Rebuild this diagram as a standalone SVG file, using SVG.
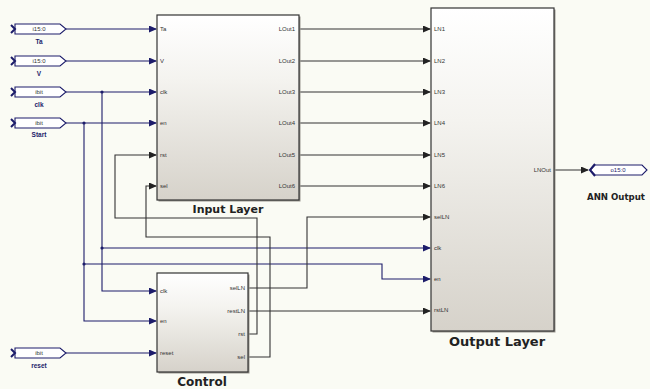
<svg xmlns="http://www.w3.org/2000/svg" width="650" height="389" viewBox="0 0 650 389">
<defs>
<linearGradient id="blk" x1="0" y1="0" x2="0" y2="1">
<stop offset="0" stop-color="#ffffff"/>
<stop offset="0.35" stop-color="#f4f3ef"/>
<stop offset="1" stop-color="#d6d2ca"/>
</linearGradient>
<marker id="arN" markerWidth="8" markerHeight="7" refX="7" refY="3.5" orient="auto" markerUnits="userSpaceOnUse">
<path d="M0,0 L8,3.5 L0,7 Z" fill="#1c1c6a"/>
</marker>
<marker id="arK" markerWidth="8" markerHeight="7" refX="7" refY="3.5" orient="auto" markerUnits="userSpaceOnUse">
<path d="M0,0 L8,3.5 L0,7 Z" fill="#222"/>
</marker>
</defs>
<style>
.bg{fill:#fafbf4}
.blk{fill:url(#blk);stroke:#333;stroke-width:1.2}
.shd{fill:#9a978f}
.port{fill:#fff;stroke:#1c1c6a;stroke-width:1.1}
.notch{fill:none;stroke:#1c1c6a;stroke-width:2}
.pt{font-family:"Liberation Sans",Arial,sans-serif;font-size:6px;fill:#333}
.ptv{font-family:"Liberation Sans",Arial,sans-serif;font-size:6px;fill:#1c1c6a}
.pl{font-family:"Liberation Sans",Arial,sans-serif;font-size:6.5px;fill:#1c1c6a;font-weight:bold}
.ttl{font-family:"DejaVu Sans",Verdana,sans-serif;font-weight:bold;fill:#222}
.wn{fill:none;stroke:#1c1c6a;stroke-width:1.1}
.wk{fill:none;stroke:#333;stroke-width:1.1}
.dot{fill:#1c1c6a}
</style>
<rect class="bg" x="0" y="0" width="650" height="389"/>

<g id="connectors">
<path class="wn" d="M66,29 H156" marker-end="url(#arN)"/>
<path class="wn" d="M66,61 H156" marker-end="url(#arN)"/>
<path class="wn" d="M66,92 H156" marker-end="url(#arN)"/>
<path class="wn" d="M66,123 H156" marker-end="url(#arN)"/>
<path class="wn" d="M102,92 V291 H156" marker-end="url(#arN)"/>
<path class="wn" d="M84,123 V321 H156" marker-end="url(#arN)"/>
<path class="wn" d="M102,248 H430" marker-end="url(#arN)"/>
<path class="wn" d="M84,264 H382 V279 H430" marker-end="url(#arN)"/>
<path class="wn" d="M66,353 H156" marker-end="url(#arN)"/>
<path class="wk" d="M248,334 H257 V218 H115 V155 H156" marker-end="url(#arK)"/>
<path class="wk" d="M248,357 H270 V237 H146 V186 H156" marker-end="url(#arK)"/>
<path class="wk" d="M248,288 H307 V217 H430" marker-end="url(#arK)"/>
<path class="wk" d="M248,311 H430" marker-end="url(#arK)"/>
<path class="wk" d="M299,29 H430" marker-end="url(#arK)"/>
<path class="wk" d="M299,61 H430" marker-end="url(#arK)"/>
<path class="wk" d="M299,92 H430" marker-end="url(#arK)"/>
<path class="wk" d="M299,123 H430" marker-end="url(#arK)"/>
<path class="wk" d="M299,155 H430" marker-end="url(#arK)"/>
<path class="wk" d="M299,186 H430" marker-end="url(#arK)"/>
<path class="wk" d="M555,170 H588" marker-end="url(#arK)"/>
<circle class="dot" cx="102" cy="92" r="1.6"/>
<circle class="dot" cx="84" cy="123" r="1.6"/>
<circle class="dot" cx="102" cy="248" r="1.6"/>
<circle class="dot" cx="84" cy="264" r="1.6"/>
</g>

<g id="in_Ta">
<path class="port" d="M15,24 H60 L66,29 L60,34 H15 Z"/>
<path class="notch" d="M11,25 L15,29 L11,33"/>
<text class="pt" x="39" y="31" text-anchor="middle">i15:0</text>
<text class="pl" x="39" y="44" text-anchor="middle">Ta</text>
</g>
<g id="in_V">
<path class="port" d="M15,56 H60 L66,61 L60,66 H15 Z"/>
<path class="notch" d="M11,57 L15,61 L11,65"/>
<text class="pt" x="39" y="63" text-anchor="middle">i15:0</text>
<text class="pl" x="39" y="76" text-anchor="middle">V</text>
</g>
<g id="in_clk">
<path class="port" d="M15,87 H60 L66,92 L60,97 H15 Z"/>
<path class="notch" d="M11,88 L15,92 L11,96"/>
<text class="pt" x="39" y="94" text-anchor="middle">ibit</text>
<text class="pl" x="39" y="107" text-anchor="middle">clk</text>
</g>
<g id="in_Start">
<path class="port" d="M15,118 H60 L66,123 L60,128 H15 Z"/>
<path class="notch" d="M11,119 L15,123 L11,127"/>
<text class="pt" x="39" y="125" text-anchor="middle">ibit</text>
<text class="pl" x="39" y="137" text-anchor="middle">Start</text>
</g>
<g id="in_reset">
<path class="port" d="M15,348 H60 L66,353 L60,358 H15 Z"/>
<path class="notch" d="M11,349 L15,353 L11,357"/>
<text class="pt" x="39" y="355" text-anchor="middle">ibit</text>
<text class="pl" x="39" y="368" text-anchor="middle">reset</text>
</g>

<g id="input_layer">
<rect class="shd" x="158.5" y="16.5" width="142" height="185"/>
<rect class="blk" x="157" y="15" width="142" height="185"/>
<text class="pt" x="160" y="31">Ta</text>
<text class="pt" x="160" y="63">V</text>
<text class="pt" x="160" y="94">clk</text>
<text class="pt" x="160" y="125">en</text>
<text class="pt" x="160" y="157">rst</text>
<text class="pt" x="160" y="188">sel</text>
<text class="pt" x="295" y="31" text-anchor="end">LOut1</text>
<text class="pt" x="295" y="63" text-anchor="end">LOut2</text>
<text class="pt" x="295" y="94" text-anchor="end">LOut3</text>
<text class="pt" x="295" y="125" text-anchor="end">LOut4</text>
<text class="pt" x="295" y="157" text-anchor="end">LOut5</text>
<text class="pt" x="295" y="188" text-anchor="end">LOut6</text>
<text class="ttl" x="228" y="213" font-size="11" text-anchor="middle">Input Layer</text>
</g>

<g id="control">
<rect class="shd" x="158.5" y="274.5" width="91" height="99"/>
<rect class="blk" x="157" y="273" width="91" height="99"/>
<text class="pt" x="160" y="293">clk</text>
<text class="pt" x="160" y="323">en</text>
<text class="pt" x="160" y="355">reset</text>
<text class="pt" x="245" y="290" text-anchor="end">selLN</text>
<text class="pt" x="245" y="313" text-anchor="end">restLN</text>
<text class="pt" x="245" y="336" text-anchor="end">rst</text>
<text class="pt" x="245" y="359" text-anchor="end">sel</text>
<text class="ttl" x="202" y="386" font-size="12" text-anchor="middle">Control</text>
</g>

<g id="output_layer">
<rect class="shd" x="432.5" y="9.5" width="123" height="323"/>
<rect class="blk" x="431" y="8" width="123" height="323"/>
<text class="pt" x="434" y="31">LN1</text>
<text class="pt" x="434" y="63">LN2</text>
<text class="pt" x="434" y="94">LN3</text>
<text class="pt" x="434" y="125">LN4</text>
<text class="pt" x="434" y="157">LN5</text>
<text class="pt" x="434" y="188">LN6</text>
<text class="pt" x="434" y="219">selLN</text>
<text class="pt" x="434" y="250">clk</text>
<text class="pt" x="434" y="281">en</text>
<text class="pt" x="434" y="312">rstLN</text>
<text class="pt" x="551" y="172" text-anchor="end">LNOut</text>
<text class="ttl" x="497" y="346" font-size="13" text-anchor="middle">Output Layer</text>
</g>

<g id="out_ANN">
<path class="port" d="M595,165 H642 L647,170 L642,175 H595 L590,170 Z"/>
<path class="notch" d="M595,164 L590,170 L595,176"/>
<text class="ptv" x="618" y="172" text-anchor="middle">o15:0</text>
<text class="ttl" x="616" y="200" font-size="8.6" text-anchor="middle">ANN Output</text>
</g>
</svg>
